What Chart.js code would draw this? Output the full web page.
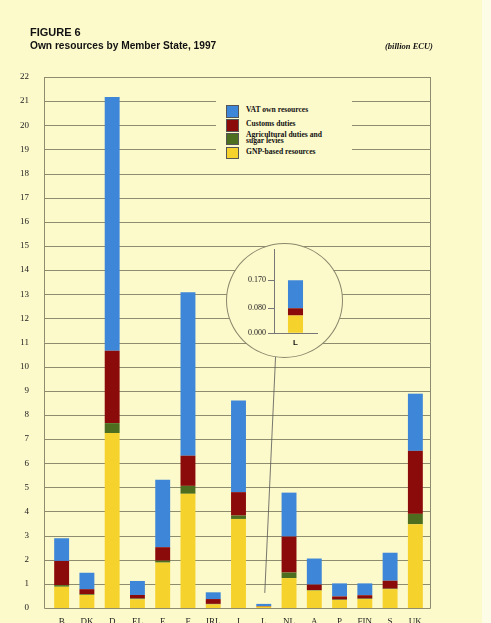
<!DOCTYPE html>
<html>
<head>
<meta charset="utf-8">
<script src="https://cdn.jsdelivr.net/npm/chart.js@4.4.1/dist/chart.umd.min.js"></script>
<style>
  html, body { margin: 0; padding: 0; }
  body { width: 491px; height: 623px; background: #fcf9cb; position: relative; overflow: hidden; }
  #strip { position: absolute; left: 482px; top: 0; width: 9px; height: 623px; background: #fdfce6; }
  #chart { position: absolute; left: 0; top: 0; }
  .t1, .t2 { position: absolute; left: 30px; font-family: "Liberation Sans", Arial, sans-serif; font-weight: bold; color: #111; white-space: nowrap; }
  .t1 { top: 26px; font-size: 11px; }
  .t2 { top: 40px; font-size: 10.2px; }
  .unit { position: absolute; left: 385px; top: 41px; font: italic bold 8.5px "Liberation Serif", serif; color: #111; }
  #legend { position: absolute; left: 216px; top: 93px; width: 136px; height: 71px; background: #fcf9cb; }
  .item { position: absolute; left: 10px; }
  .sw { position: absolute; left: 0; width: 11px; height: 10.5px; border: 0.6px solid #555; }
  .lab { position: absolute; left: 20px; font: bold 7.6px "Liberation Serif", serif; line-height: 6.6px; color: #111; white-space: nowrap; }
  #inset { position: absolute; left: 226px; top: 243px; width: 117px; height: 115px; box-sizing: border-box;
           border: 1px solid #8a886c; border-radius: 50%; background: #fcf9cb; overflow: hidden; }
  #insetChart { position: absolute; left: -1px; top: -1px; }
</style>
</head>
<body>
<div id="strip"></div>
<canvas id="chart" width="491" height="623"></canvas>
<div class="t1">FIGURE 6</div>
<div class="t2">Own resources by Member State, 1997</div>
<div class="unit">(billion ECU)</div>
<div id="legend"></div>
<div id="inset"><canvas id="insetChart" width="117" height="115"></canvas></div>
<script>
// categories and series (billion ECU)
const countries = ['B', 'DK', 'D', 'EL', 'E', 'F', 'IRL', 'I', 'L', 'NL', 'A', 'P', 'FIN', 'S', 'UK'];
const gnpBased = [0.88, 0.54, 7.25, 0.36, 1.88, 4.73, 0.15, 3.69, 0.057, 1.24, 0.72, 0.33, 0.37, 0.78, 3.47];
const agricultural = [0.07, 0.03, 0.41, 0.03, 0.08, 0.33, 0.02, 0.14, 0.0, 0.23, 0.02, 0.02, 0.02, 0.02, 0.43];
const customs = [1.00, 0.21, 3.00, 0.15, 0.56, 1.25, 0.20, 0.97, 0.023, 1.49, 0.23, 0.13, 0.14, 0.33, 2.61];
const vat = [0.94, 0.68, 10.51, 0.58, 2.79, 6.77, 0.28, 3.80, 0.09, 1.82, 1.08, 0.54, 0.49, 1.16, 2.37];

const seriesLabels = ['GNP-based resources', 'Agricultural duties and sugar levies', 'Customs duties', 'VAT own resources'];
const seriesColors = ['#f5d22c', '#4d6e1f', '#8b0b0b', '#3e86d8'];
const yTicksMax = 22;
const insetCountry = 'L';
const insetTicks = [0, 0.08, 0.17];

const gridColor = '#8e8c6e';
const serif = '"Liberation Serif", "Times New Roman", serif';

const series = [gnpBased, agricultural, customs, vat];
const datasets = series.map((data, i) => ({
    label: seriesLabels[i],
    data: data,
    backgroundColor: seriesColors[i],
    borderWidth: 0,
    stack: 's',
    barPercentage: 0.59,
    categoryPercentage: 1
}));

// legend, top series first like the original
const legendTops = [12, 26, 39.5, 53.5];
const legendEl = document.getElementById('legend');
[3, 2, 1, 0].forEach((si, k) => {
    const item = document.createElement('div');
    item.className = 'item';
    item.style.top = legendTops[k] + 'px';
    const sw = document.createElement('div');
    sw.className = 'sw';
    sw.style.background = seriesColors[si];
    const lab = document.createElement('div');
    lab.className = 'lab';
    let text = seriesLabels[si];
    if (text.startsWith('Agricultural')) {
        lab.innerHTML = 'Agricultural duties and<br>sugar levies';
        lab.style.top = '-1px';
    } else {
        lab.textContent = text;
        lab.style.top = '2px';
    }
    item.appendChild(sw);
    item.appendChild(lab);
    legendEl.appendChild(item);
});

// the frame is a bit wider than the category band, so grid + frame drawn here
const LEFT_EXT = 5, RIGHT_EXT = 2;
const gridPlugin = {
    id: 'gridFrame',
    beforeDatasetsDraw(chart) {
        const { ctx, chartArea, scales } = chart;
        const l = Math.round(chartArea.left - LEFT_EXT) + 0.5;
        const r = Math.round(chartArea.right + RIGHT_EXT) + 0.5;
        ctx.save();
        ctx.strokeStyle = gridColor;
        ctx.lineWidth = 1;
        ctx.beginPath();
        scales.y.ticks.forEach(t => {
            const y = Math.round(scales.y.getPixelForValue(t.value)) + 0.5;
            ctx.moveTo(l, y);
            ctx.lineTo(r, y);
        });
        ctx.moveTo(l, chartArea.top);
        ctx.lineTo(l, chartArea.bottom + 0.5);
        ctx.moveTo(r, chartArea.top);
        ctx.lineTo(r, chartArea.bottom + 0.5);
        ctx.stroke();
        ctx.restore();
    },
    afterDatasetsDraw(chart) {
        // pointer from the small bar up to the magnifier
        const { ctx } = chart;
        const idx = countries.indexOf(insetCountry);
        const bar = chart.getDatasetMeta(3).data[idx];
        ctx.save();
        ctx.strokeStyle = '#555';
        ctx.lineWidth = 0.8;
        ctx.beginPath();
        ctx.moveTo(bar.x + 1, bar.y - 11);
        ctx.lineTo(bar.x + 13, 330);
        ctx.stroke();
        ctx.restore();
    }
};

new Chart(document.getElementById('chart'), {
    type: 'bar',
    data: { labels: countries, datasets: datasets },
    options: {
        responsive: false,
        animation: false,
        layout: { padding: { top: 77, right: 63, bottom: 0, left: 0 } },
        plugins: { legend: { display: false }, tooltip: { enabled: false } },
        scales: {
            x: {
                stacked: true,
                grid: { display: false },
                border: { display: false },
                ticks: { color: '#222', font: { family: serif, size: 9 }, padding: 0, maxRotation: 0, autoSkip: false },
                afterFit(scale) { scale.height = 15; }
            },
            y: {
                stacked: true,
                min: 0,
                max: yTicksMax,
                grid: { display: false },
                border: { display: false },
                ticks: { stepSize: 1, color: '#222', font: { family: serif, size: 9 }, padding: 12 },
                afterFit(scale) {
                    scale.width = 49;
                    // keep the label padding from pushing the plot bottom up
                    scale.paddingTop = 0;
                    scale.paddingBottom = 0;
                }
            }
        }
    },
    plugins: [gridPlugin]
});

// magnified inset for the smallest contributor
const li = countries.indexOf(insetCountry);
new Chart(document.getElementById('insetChart'), {
    type: 'bar',
    data: {
        labels: [insetCountry],
        datasets: series.map((data, i) => ({
            label: seriesLabels[i],
            data: [data[li]],
            backgroundColor: seriesColors[i],
            borderWidth: 0,
            stack: 's',
            barPercentage: 0.35,
            categoryPercentage: 1
        }))
    },
    options: {
        responsive: false,
        animation: false,
        layout: { padding: { top: 0, right: 26, bottom: 0, left: 0 } },
        plugins: { legend: { display: false }, tooltip: { enabled: false } },
        scales: {
            x: {
                stacked: true,
                grid: { display: false },
                border: { color: '#777' },
                ticks: { color: '#111', font: { family: '"Liberation Sans", Arial, sans-serif', size: 8, weight: 'bold' }, padding: -3 },
                afterFit(scale) { scale.height = 24.7; }
            },
            y: {
                stacked: true,
                min: 0,
                max: 0.268,
                afterBuildTicks(scale) { scale.ticks = insetTicks.map(v => ({ value: v })); },
                grid: { drawOnChartArea: false, tickLength: 6, color: '#777' },
                border: { color: '#777' },
                ticks: { color: '#222', font: { family: serif, size: 8 }, padding: 2, callback: v => v.toFixed(3) },
                afterFit(scale) { scale.width = 48; }
            }
        }
    }
});
</script>
</body>
</html>
